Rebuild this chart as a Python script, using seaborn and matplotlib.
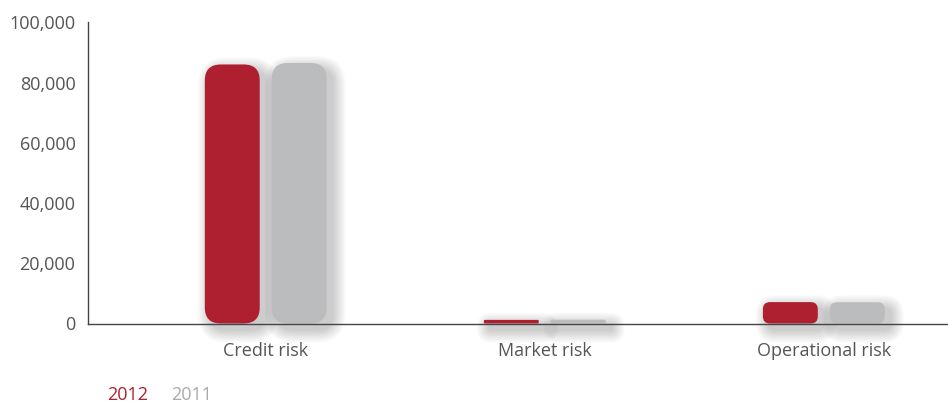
import matplotlib
matplotlib.use("Agg")
import matplotlib.pyplot as plt
import seaborn as sns
import pandas as pd
from matplotlib.patches import FancyBboxPatch
import matplotlib.transforms as mtransforms

categories = ["Credit risk", "Market risk", "Operational risk"]
years = ["2012", "2011"]
values_2012 = [86000, 1200, 7100]
values_2011 = [86500, 1250, 7050]
yticks = [0, 20000, 40000, 60000, 80000, 100000]
colors = {"2012": "#AE1F2F", "2011": "#BBBCBE"}

df = pd.DataFrame({
    "category": categories * 2,
    "year": ["2012"] * 3 + ["2011"] * 3,
    "value": values_2012 + values_2011,
})

sns.set_theme(style="white")
plt.rcParams["font.family"] = ["Open Sans", "DejaVu Sans"]

W, H = 948, 403
fig = plt.figure(figsize=(W / 100, H / 100), dpi=100)
ax = fig.add_axes([88 / W, (H - 323.5) / H, (948 - 88) / W, (323.5 - 22.3) / H])

sns.barplot(data=df, x="category", y="value", hue="year", hue_order=years,
            palette=colors, width=0.48, gap=0.18, ax=ax, legend=False,
            saturation=1, edgecolor="none", linewidth=0)

ax.set_xlim(-0.637, 2.445)
ax.set_ylim(0, 100000)
ax.set_yticks(yticks)
ax.set_yticklabels([f"{v:,}" for v in yticks])
ax.set_xlabel("")
ax.set_ylabel("")

for s in ["top", "right"]:
    ax.spines[s].set_visible(False)
ax.spines["left"].set_color("#444444")
ax.spines["left"].set_linewidth(1.0)
ax.spines["bottom"].set_color("#444444")
ax.spines["bottom"].set_linewidth(1.0)

ax.tick_params(axis="y", direction="in", length=21.6, width=1.0, color="#444444",
               pad=9, labelsize=13, labelcolor="#555555")
ax.tick_params(axis="x", length=0, pad=13, labelsize=13, labelcolor="#555555")

# Replace bars with rounded, shadowed versions
fig.canvas.draw()
px_per_x = ax.transData.transform((1, 0))[0] - ax.transData.transform((0, 0))[0]
px_per_y = ax.transData.transform((0, 1))[1] - ax.transData.transform((0, 0))[1]
aspect = (1 / px_per_y) / (1 / px_per_x)

bars = list(ax.patches)
for p in bars:
    x, y = p.get_x(), p.get_y()
    w, h = p.get_width(), p.get_height()
    color = p.get_facecolor()
    p.remove()
    h_px = h * px_per_y
    r_px = min(16.0, h_px / 3.0)
    r = r_px / px_per_x
    # shadow
    for i in range(10):
        grow = (i + 1) * 1.3
        gx = grow / px_per_x
        gy = grow / px_per_y
        rs = min(r_px + grow, (h_px + 2 * grow) / 2.0) / px_per_x
        offset = mtransforms.offset_copy(ax.transData, fig=fig, x=6, y=-6, units="dots")
        sh = FancyBboxPatch((x - gx, y - gy), w + 2 * gx, h + 2 * gy,
                            boxstyle=f"round,pad=0,rounding_size={rs}",
                            mutation_aspect=aspect, facecolor="#000000",
                            edgecolor="none", alpha=0.02, transform=offset,
                            zorder=1, clip_on=False)
        ax.add_patch(sh)
    bp = FancyBboxPatch((x, y), w, h, boxstyle=f"round,pad=0,rounding_size={r}",
                        mutation_aspect=aspect, facecolor=color, edgecolor="none",
                        zorder=3, clip_on=False)
    ax.add_patch(bp)

ax.spines["bottom"].set_zorder(4)

# legend as text
fig.text(107 / W, 1 - 395 / H, "2012", color=colors["2012"], fontsize=13, va="center", ha="left")
fig.text(171 / W, 1 - 395 / H, "2011", color="#AAAAAA", fontsize=13, va="center", ha="left")

fig.savefig("out.png", dpi=100)
